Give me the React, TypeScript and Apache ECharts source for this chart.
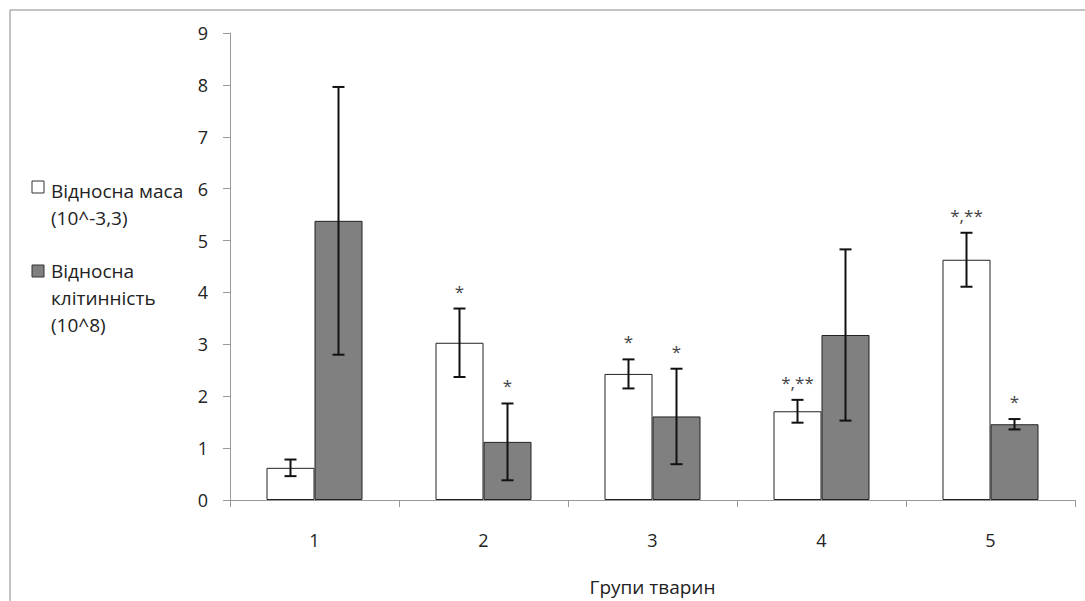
import React, { useEffect, useRef } from "react";
import * as echarts from "echarts";

const categories = ["1", "2", "3", "4", "5"];
const massValues = [0.62, 3.03, 2.43, 1.71, 4.63];
const massErrors = [0.16, 0.66, 0.28, 0.22, 0.52];
const cellValues = [5.38, 1.12, 1.61, 3.18, 1.46];
const cellErrors = [2.58, 0.74, 0.92, 1.65, 0.1];
const massMarks = ["", "*", "*", "*,**", "*,**"];
const cellMarks = ["", "*", "*", "", "*"];
const yTicks = [0, 1, 2, 3, 4, 5, 6, 7, 8, 9];
const massName = "Відносна маса\n(10^-3,3)";
const cellName = "Відносна\nклітинність\n(10^8)";
const xName = "Групи тварин";

const FONT = "'Open Sans', 'Noto Sans', sans-serif";
const BAR_W = 48;

function errorSeries(name: string, vals: number[], errs: number[], marks: string[], offset: number) {
  return {
    type: "custom",
    name,
    z: 10,
    renderItem: (params: any, api: any) => {
      const idx = api.value(0);
      const v = api.value(1);
      const e = api.value(2);
      const c = api.coord([idx, v]);
      const x = c[0] + offset;
      const top = api.coord([idx, v + e])[1];
      const bot = api.coord([idx, v - e])[1];
      const st = { stroke: "#111", lineWidth: 2 };
      const children: any[] = [
        { type: "line", shape: { x1: x, y1: top, x2: x, y2: bot }, style: st },
        { type: "line", shape: { x1: x - 6, y1: top, x2: x + 6, y2: top }, style: st },
        { type: "line", shape: { x1: x - 6, y1: bot, x2: x + 6, y2: bot }, style: st },
      ];
      const m = marks[params.dataIndex];
      if (m) {
        children.push({
          type: "text",
          x,
          y: top - 9,
          style: { text: m, fill: "#444", font: `17px ${FONT}`, align: "center", verticalAlign: "bottom" },
        });
      }
      return { type: "group", children };
    },
    data: vals.map((v, i) => [i, v, errs[i]]),
  };
}

export default function App() {
  const ref = useRef<HTMLDivElement>(null);
  useEffect(() => {
    if (!ref.current) return;
    const chart = echarts.init(ref.current, null, { renderer: "svg" });
    chart.setOption({
      animation: false,
      backgroundColor: "#fff",
      grid: { left: 230, right: 10, top: 33, bottom: 100 },
      xAxis: {
        type: "category",
        data: categories,
        name: xName,
        nameLocation: "middle",
        nameGap: 77,
        nameTextStyle: { fontFamily: FONT, fontSize: 19, color: "#222" },
        axisLine: { lineStyle: { color: "#999" } },
        axisTick: { show: true, length: 7, lineStyle: { color: "#999" } },
        axisLabel: { fontFamily: FONT, fontSize: 18, color: "#222", margin: 31 },
      },
      yAxis: {
        type: "value",
        min: 0,
        max: 9,
        interval: 1,
        splitLine: { show: false },
        axisLine: { show: true, lineStyle: { color: "#999" } },
        axisTick: { show: true, length: 7, lineStyle: { color: "#999" } },
        axisLabel: {
          fontFamily: FONT,
          fontSize: 18,
          color: "#222",
          margin: 22,
          formatter: (v: number) => (yTicks.includes(v) ? String(v) : ""),
        },
      },
      series: [
        {
          type: "bar",
          name: massName,
          data: massValues,
          barWidth: BAR_W,
          barGap: "0%",
          itemStyle: { color: "#ffffff", borderColor: "#222", borderWidth: 1 },
        },
        {
          type: "bar",
          name: cellName,
          data: cellValues,
          barWidth: BAR_W,
          barGap: "0%",
          itemStyle: { color: "#808080", borderColor: "#222", borderWidth: 1 },
        },
        errorSeries("err-mass", massValues, massErrors, massMarks, -BAR_W / 2),
        errorSeries("err-cell", cellValues, cellErrors, cellMarks, BAR_W / 2),
      ],
      graphic: [
        {
          type: "rect",
          shape: { x: 10, y: 10, width: 1200, height: 700 },
          style: { fill: "none", stroke: "#888", lineWidth: 1 },
          silent: true,
        },
        {
          type: "rect",
          shape: { x: 32, y: 181, width: 12, height: 12 },
          style: { fill: "#fff", stroke: "#333", lineWidth: 1 },
        },
        {
          type: "text",
          x: 51,
          y: 177,
          style: { text: massName, font: `19px ${FONT}`, fill: "#222", lineHeight: 27 },
        },
        {
          type: "rect",
          shape: { x: 32, y: 265, width: 12, height: 12 },
          style: { fill: "#808080", stroke: "#333", lineWidth: 1 },
        },
        {
          type: "text",
          x: 51,
          y: 257,
          style: { text: cellName, font: `19px ${FONT}`, fill: "#222", lineHeight: 27 },
        },
      ],
    });
    return () => chart.dispose();
  }, []);
  return (
    <div
      ref={ref}
      style={{ position: "fixed", left: 0, top: 0, width: 1085, height: 601 }}
    />
  );
}
